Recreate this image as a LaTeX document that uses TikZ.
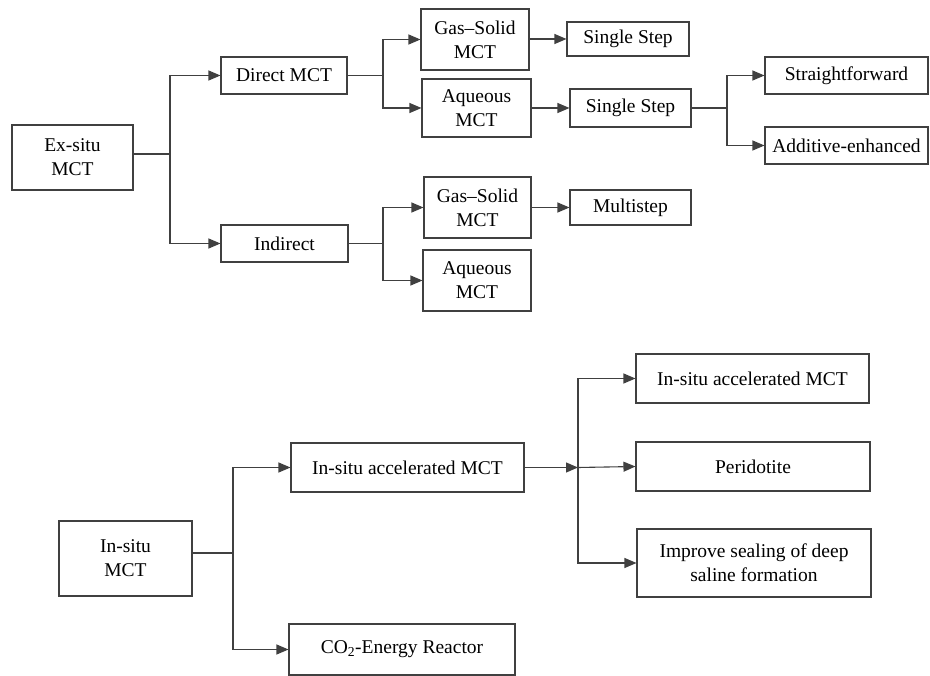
\documentclass[tikz,border=0pt]{standalone}
\usepackage{fontspec}
\setmainfont{Liberation Serif}
\usetikzlibrary{arrows.meta}
\tikzset{
  box/.style={draw=black!75, line width=1.1pt, inner sep=2pt, align=center,
    font=\fontsize{19.5}{24}\selectfont, text=black},
  conn/.style={draw=black!75, line width=1.1pt},
  arr/.style={conn, -{Triangle[length=12pt,width=10pt]}}
}
\begin{document}
\begin{tikzpicture}[x=1pt,y=-1pt]
\useasboundingbox (0,0) rectangle (930,676);
% ---- Ex-situ tree ----
\node[box, minimum width=121pt, minimum height=65pt] (exsitu) at (72.5,157.5) {Ex-situ\\MCT};
\node[box, minimum width=126pt, minimum height=37pt] (direct) at (284,75.5) {Direct MCT};
\node[box, minimum width=127pt, minimum height=37pt] (indirect) at (284.5,243.5) {Indirect};
\node[box, minimum width=108pt, minimum height=61pt] (gs1) at (475,39.5) {Gas--Solid\\MCT};
\node[box, minimum width=109pt, minimum height=58pt] (aq1) at (476.5,108) {Aqueous\\MCT};
\node[box, minimum width=122pt, minimum height=34pt] (ss1) at (628,39) {Single Step};
\node[box, minimum width=121pt, minimum height=38pt] (ss2) at (630.5,108) {Single Step};
\node[box, minimum width=163pt, minimum height=37pt] (sf) at (846.5,75.5) {Straightforward};
\node[box, minimum width=163pt, minimum height=37pt] (ae) at (846.5,145.5) {Additive-enhanced};
\node[box, minimum width=107pt, minimum height=61pt] (gs2) at (477.5,207.5) {Gas--Solid\\MCT};
\node[box, minimum width=108pt, minimum height=61pt] (aq2) at (477,280.5) {Aqueous\\MCT};
\node[box, minimum width=121pt, minimum height=35pt] (ms) at (630.5,207.5) {Multistep};
\coordinate (j1) at (170,154);
\coordinate (j2) at (383,75.5);
\coordinate (j3) at (383,243.5);
\coordinate (j4) at (727,108);
\draw[conn] (exsitu.east |- j1) -- (j1);
\draw[arr] (j1) |- (direct.west);
\draw[arr] (j1) |- (indirect.west);
\draw[conn] (direct.east) -- (j2);
\draw[arr] (j2) |- (gs1.west);
\draw[arr] (j2) |- (aq1.west);
\draw[conn] (indirect.east) -- (j3);
\draw[arr] (j3) |- (gs2.west);
\draw[arr] (j3) |- (aq2.west);
\draw[arr] (gs1.east |- ss1) -- (ss1.west);
\draw[arr] (aq1.east) -- (ss2.west);
\draw[arr] (gs2.east) -- (ms.west);
\draw[conn] (ss2.east) -- (j4);
\draw[arr] (j4) |- (sf.west);
\draw[arr] (j4) |- (ae.west);
% ---- In-situ tree ----
\node[box, minimum width=133pt, minimum height=75pt] (insitu) at (125.5,558.5) {In-situ\\MCT};
\node[box, minimum width=233pt, minimum height=49pt] (ia) at (407.5,467.5) {In-situ accelerated MCT};
\node[box, minimum width=226pt, minimum height=51pt] (co2) at (402,649.5) {CO\textsubscript{2}-Energy Reactor};
\node[box, minimum width=233pt, minimum height=49pt] (r1) at (752.5,378.5) {In-situ accelerated MCT};
\node[box, minimum width=234pt, minimum height=49pt] (r2) at (753,466.5) {Peridotite};
\node[box, minimum width=234pt, minimum height=68pt] (r3) at (754,563) {Improve sealing of deep\\saline formation};
\coordinate (j5) at (233,553);
\coordinate (j6) at (578,467.5);
\draw[conn] (insitu.east |- j5) -- (j5);
\draw[arr] (j5) |- (ia.west);
\draw[arr] (j5) |- (co2.west);
\draw[arr] (ia.east) -- (j6);
\draw[arr] (j6) |- (r1.west);
\draw[arr] (j6) -- (r2.west);
\draw[arr] (j6) |- (r3.west);
\end{tikzpicture}
\end{document}
